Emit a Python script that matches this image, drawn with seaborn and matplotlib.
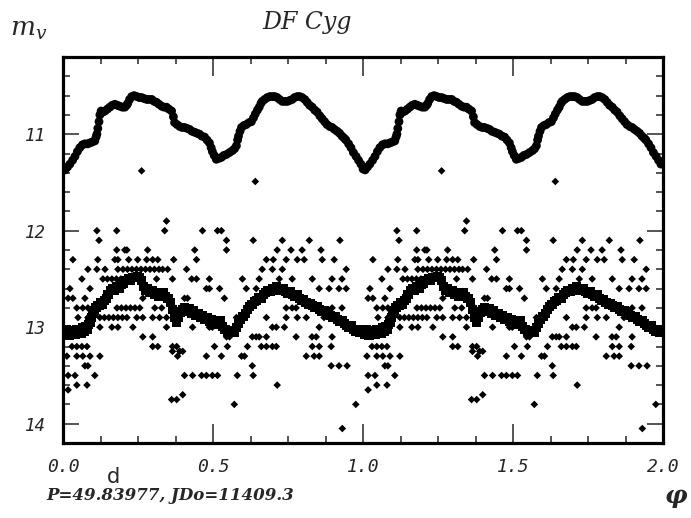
import matplotlib
matplotlib.use("Agg")
import matplotlib.pyplot as plt
from matplotlib.ticker import MultipleLocator, FixedLocator
import numpy as np
import pandas as pd
import seaborn as sns

# ---------------- data (phase 0-1, shown twice: 0-1 and 1-2) ----------------
top_phase = [0.000, 0.007, 0.015, 0.023, 0.032, 0.040, 0.048, 0.056, 0.065, 0.073,
             0.082, 0.090, 0.098, 0.106, 0.110, 0.113, 0.116, 0.120, 0.123, 0.127,
             0.133, 0.140, 0.148, 0.156, 0.164, 0.173, 0.181, 0.189, 0.198, 0.206,
             0.212, 0.216, 0.222, 0.229, 0.237, 0.246, 0.254, 0.262, 0.270, 0.279,
             0.287, 0.296, 0.304, 0.312, 0.320, 0.329, 0.337, 0.345, 0.353, 0.362,
             0.368, 0.372, 0.380, 0.389, 0.397, 0.405, 0.414, 0.422, 0.430, 0.439,
             0.447, 0.455, 0.463, 0.472, 0.480, 0.488, 0.494, 0.498, 0.504, 0.511,
             0.520, 0.528, 0.536, 0.545, 0.555, 0.565, 0.572, 0.578, 0.582, 0.585,
             0.590, 0.595, 0.603, 0.611, 0.620, 0.628, 0.635, 0.641, 0.648, 0.654,
             0.660, 0.664, 0.672, 0.681, 0.690, 0.698, 0.706, 0.714, 0.722, 0.731,
             0.740, 0.748, 0.756, 0.764, 0.772, 0.781, 0.789, 0.797, 0.806, 0.814,
             0.822, 0.831, 0.839, 0.847, 0.856, 0.864, 0.872, 0.880, 0.889, 0.897,
             0.905, 0.914, 0.922, 0.930, 0.937, 0.943, 0.952, 0.960, 0.968, 0.977,
             0.985, 0.993]
top_mag = [11.36, 11.37, 11.34, 11.31, 11.27, 11.23, 11.18, 11.14, 11.11, 11.10,
           11.10, 11.09, 11.08, 11.07, 11.03, 11.00, 10.94, 10.87, 10.80, 10.76,
           10.77, 10.76, 10.74, 10.72, 10.70, 10.69, 10.70, 10.71, 10.72, 10.72,
           10.70, 10.68, 10.64, 10.61, 10.60, 10.61, 10.62, 10.62, 10.63, 10.64,
           10.64, 10.64, 10.66, 10.67, 10.69, 10.71, 10.72, 10.72, 10.74, 10.76,
           10.82, 10.88, 10.90, 10.92, 10.93, 10.93, 10.94, 10.95, 10.97, 10.98,
           10.99, 11.00, 11.02, 11.03, 11.06, 11.09, 11.14, 11.18, 11.22, 11.26,
           11.25, 11.24, 11.22, 11.21, 11.19, 11.17, 11.15, 11.12, 11.06, 11.02,
           10.97, 10.93, 10.91, 10.90, 10.88, 10.87, 10.83, 10.79, 10.75, 10.72,
           10.68, 10.66, 10.64, 10.62, 10.61, 10.61, 10.61, 10.62, 10.64, 10.66,
           10.66, 10.66, 10.65, 10.64, 10.62, 10.61, 10.61, 10.62, 10.64, 10.67,
           10.70, 10.72, 10.75, 10.77, 10.81, 10.84, 10.87, 10.90, 10.92, 10.93,
           10.95, 10.97, 10.99, 11.02, 11.04, 11.06, 11.10, 11.14, 11.19, 11.23,
           11.27, 11.31]

low_phase = [0.000, 0.005, 0.010, 0.015, 0.020, 0.025, 0.030, 0.035, 0.040, 0.045,
             0.050, 0.055, 0.060, 0.065, 0.070, 0.075, 0.080, 0.085, 0.090, 0.095,
             0.100, 0.105, 0.110, 0.115, 0.120, 0.125, 0.130, 0.138, 0.145, 0.150,
             0.158, 0.165, 0.172, 0.180, 0.188, 0.195, 0.203, 0.210, 0.218, 0.225,
             0.232, 0.240, 0.248, 0.255, 0.262, 0.268, 0.275, 0.282, 0.290, 0.297,
             0.305, 0.312, 0.320, 0.328, 0.335, 0.342, 0.350, 0.358, 0.365, 0.372,
             0.378, 0.385, 0.392, 0.398, 0.405, 0.412, 0.420, 0.428, 0.435, 0.442,
             0.450, 0.458, 0.465, 0.472, 0.480, 0.488, 0.495, 0.502, 0.510, 0.518,
             0.525, 0.532, 0.540, 0.548, 0.555, 0.562, 0.570, 0.578, 0.585, 0.592,
             0.600, 0.608, 0.615, 0.622, 0.630, 0.638, 0.645, 0.652, 0.660, 0.668,
             0.675, 0.682, 0.690, 0.698, 0.705, 0.712, 0.720, 0.728, 0.735, 0.742,
             0.750, 0.758, 0.765, 0.772, 0.780, 0.788, 0.795, 0.802, 0.810, 0.818,
             0.825, 0.832, 0.840, 0.848, 0.855, 0.862, 0.870, 0.878, 0.885, 0.892,
             0.900, 0.908, 0.915, 0.922, 0.930, 0.938, 0.945, 0.952, 0.960, 0.968,
             0.975, 0.982, 0.990, 0.995]
low_mag = [13.05, 13.08, 13.02, 13.06, 13.09, 13.03, 13.07, 13.04, 13.08, 13.02,
           13.06, 13.03, 13.07, 13.00, 13.04, 12.99, 13.02, 12.97, 12.95, 12.90,
           12.86, 12.83, 12.80, 12.77, 12.78, 12.74, 12.76, 12.72, 12.70, 12.66,
           12.62, 12.60, 12.62, 12.58, 12.60, 12.56, 12.55, 12.52, 12.50, 12.52,
           12.49, 12.48, 12.47, 12.49, 12.52, 12.58, 12.62, 12.60, 12.64, 12.62,
           12.66, 12.64, 12.68, 12.66, 12.64, 12.68, 12.70, 12.74, 12.82, 12.90,
           12.95, 12.90, 12.85, 12.82, 12.80, 12.84, 12.81, 12.86, 12.83, 12.88,
           12.86, 12.90, 12.88, 12.92, 12.90, 12.94, 12.92, 12.96, 12.94, 12.97,
           12.93, 12.99, 13.02, 13.04, 13.06, 13.03, 13.05, 13.00, 12.96, 12.92,
           12.89, 12.86, 12.82, 12.79, 12.76, 12.73, 12.72, 12.69, 12.70, 12.66,
           12.64, 12.62, 12.63, 12.60, 12.62, 12.58, 12.60, 12.62, 12.60, 12.63,
           12.65, 12.63, 12.66, 12.68, 12.66, 12.70, 12.72, 12.71, 12.74, 12.76,
           12.75, 12.78, 12.80, 12.79, 12.82, 12.84, 12.83, 12.86, 12.85, 12.88,
           12.90, 12.89, 12.92, 12.94, 12.93, 12.96, 12.98, 13.00, 12.98, 13.02,
           13.04, 13.02, 13.06, 13.03]

# scattered single estimates: magnitude level -> phases
scatter_levels = [11.38, 11.49, 11.9, 12.0, 12.1, 12.2, 12.3, 12.4, 12.5, 12.6, 12.7,
                  12.8, 12.9, 13.0, 13.1, 13.2, 13.25, 13.3, 13.4, 13.5, 13.6,
                  13.65, 13.7, 13.75, 13.8, 14.05]
scatter_phases = [
    [0.262],
    [0.641],
    [0.345],
    [0.113, 0.179, 0.339, 0.465, 0.515, 0.528],
    [0.120, 0.545, 0.634, 0.731, 0.821, 0.923],
    [0.179, 0.206, 0.213, 0.282, 0.439, 0.545, 0.714, 0.760, 0.797, 0.860],
    [0.033, 0.116, 0.173, 0.183, 0.219, 0.249, 0.279, 0.299, 0.316, 0.369, 0.445,
     0.678, 0.701, 0.744, 0.781, 0.804, 0.864, 0.904],
    [0.083, 0.113, 0.140, 0.183, 0.200, 0.215, 0.230, 0.245, 0.260, 0.275, 0.290,
     0.305, 0.320, 0.332, 0.349, 0.412, 0.664, 0.698, 0.731, 0.944],
    [0.063, 0.133, 0.148, 0.163, 0.178, 0.193, 0.208, 0.222, 0.233, 0.312, 0.365,
     0.429, 0.445, 0.488, 0.598, 0.654, 0.721, 0.764, 0.831, 0.897, 0.930],
    [0.023, 0.090, 0.478, 0.488, 0.522, 0.611, 0.644, 0.854, 0.887, 0.920, 0.944],
    [0.017, 0.033, 0.073, 0.266, 0.405, 0.415, 0.538],
    [0.046, 0.066, 0.083, 0.180, 0.195, 0.210, 0.225, 0.240, 0.256, 0.306, 0.329,
     0.372, 0.395, 0.744, 0.764, 0.777, 0.897, 0.930],
    [0.050, 0.083, 0.123, 0.138, 0.153, 0.168, 0.183, 0.198, 0.213, 0.246, 0.266,
     0.299, 0.322, 0.345, 0.578, 0.588, 0.678, 0.744, 0.781, 0.811, 0.870, 0.897],
    [0.123, 0.163, 0.183, 0.233, 0.345, 0.432, 0.488, 0.498, 0.698, 0.711, 0.738, 0.854],
    [0.266, 0.299, 0.545, 0.555, 0.631, 0.644, 0.654, 0.678, 0.777, 0.830, 0.844, 0.897],
    [0.030, 0.046, 0.063, 0.080, 0.299, 0.316, 0.365, 0.379, 0.505, 0.548, 0.615,
     0.661, 0.678, 0.698, 0.711, 0.831, 0.854, 0.894],
    [0.365, 0.389, 0.399],
    [0.013, 0.046, 0.066, 0.090, 0.123, 0.382, 0.478, 0.528, 0.595, 0.605, 0.811,
     0.837, 0.854],
    [0.073, 0.083, 0.631, 0.894, 0.920, 0.947],
    [0.017, 0.040, 0.106, 0.405, 0.432, 0.462, 0.478, 0.498, 0.515, 0.581, 0.634],
    [0.046, 0.080, 0.714],
    [0.017],
    [0.399],
    [0.362, 0.379],
    [0.571, 0.976],
    [0.931],
]

x_ticks = [0.0, 0.5, 1.0, 1.5, 2.0]
x_labels = ["0.0", "0.5", "1.0", "1.5", "2.0"]
y_ticks = [11, 12, 13, 14]
y_labels = ["11", "12", "13", "14"]
cycles = [0, 1]

# ---------------- build tables ----------------
def folded(phases, mags):
    rows = []
    for c in cycles:
        for p, m in zip(phases, mags):
            rows.append((p + c, m))
    return pd.DataFrame(rows, columns=["phase", "mag"])

df_top = folded(top_phase, top_mag)
df_low = folded(low_phase, low_mag)
sc_p, sc_m = [], []
for lvl, ph in zip(scatter_levels, scatter_phases):
    sc_p.extend(ph)
    sc_m.extend([lvl] * len(ph))
df_sc = folded(sc_p, sc_m)

# ---------------- plot ----------------
sns.set_style("white")
plt.rcParams["mathtext.fontset"] = "dejavuserif"

fig = plt.figure(figsize=(6.91, 5.18), dpi=100)
ax = fig.add_axes([63 / 691, 1 - 443 / 518, 600 / 691, 386 / 518])

sns.scatterplot(data=df_sc, x="phase", y="mag", ax=ax, marker="D", s=15,
                color="black", edgecolor="none", linewidth=0, legend=False)
sns.scatterplot(data=df_low, x="phase", y="mag", ax=ax, marker="s", s=42,
                color="black", edgecolor="none", linewidth=0, legend=False)
sns.scatterplot(data=df_top, x="phase", y="mag", ax=ax, marker="o", s=40,
                color="black", edgecolor="none", linewidth=0, legend=False)

ax.set_xlim(0, 2)
ax.set_ylim(14.2, 10.2)
ax.set_xlabel("")
ax.set_ylabel("")

ax.xaxis.set_major_locator(FixedLocator(x_ticks))
ax.set_xticklabels(x_labels)
ax.xaxis.set_minor_locator(MultipleLocator(0.125))
ax.yaxis.set_major_locator(FixedLocator(y_ticks))
ax.set_yticklabels(y_labels)
ax.yaxis.set_minor_locator(MultipleLocator(0.2))

for s in ax.spines.values():
    s.set_linewidth(2.3)
    s.set_color("black")

ax.tick_params(axis="x", which="major", direction="in", length=13.5, width=1.1,
               top=True, bottom=True, pad=11, labelsize=13)
ax.tick_params(axis="x", which="minor", direction="in", length=5, width=1.1,
               top=True, bottom=True)
ax.tick_params(axis="y", which="major", direction="in", length=11.5, width=1.1,
               left=True, right=True, pad=12, labelsize=12.5)
ax.tick_params(axis="y", which="minor", direction="in", length=5, width=1.1,
               left=True, right=True)
for lab in ax.get_xticklabels() + ax.get_yticklabels():
    lab.set_family("DejaVu Sans Mono")
    lab.set_style("italic")

fig.text(307 / 691, 1 - 29 / 518, "DF Cyg", ha="center", va="baseline",
         fontsize=17, family="DejaVu Serif", style="italic")
fig.text(10 / 691, 1 - 36 / 518, r"$m_v$", ha="left", va="baseline", fontsize=19)
fig.text(107 / 691, 1 - 483 / 518, "d", ha="left", va="baseline",
         fontsize=15, family="DejaVu Sans")
fig.text(46 / 691, 1 - 500 / 518, "P=49.83977, JDo=11409.3", ha="left",
         va="baseline", fontsize=12, family="DejaVu Serif", style="italic",
         weight="bold")
fig.text(687 / 691, 1 - 503 / 518, "φ", ha="right", va="baseline",
         fontsize=18, family="DejaVu Serif", style="italic", weight="bold")

fig.savefig("out.png", dpi=100)
